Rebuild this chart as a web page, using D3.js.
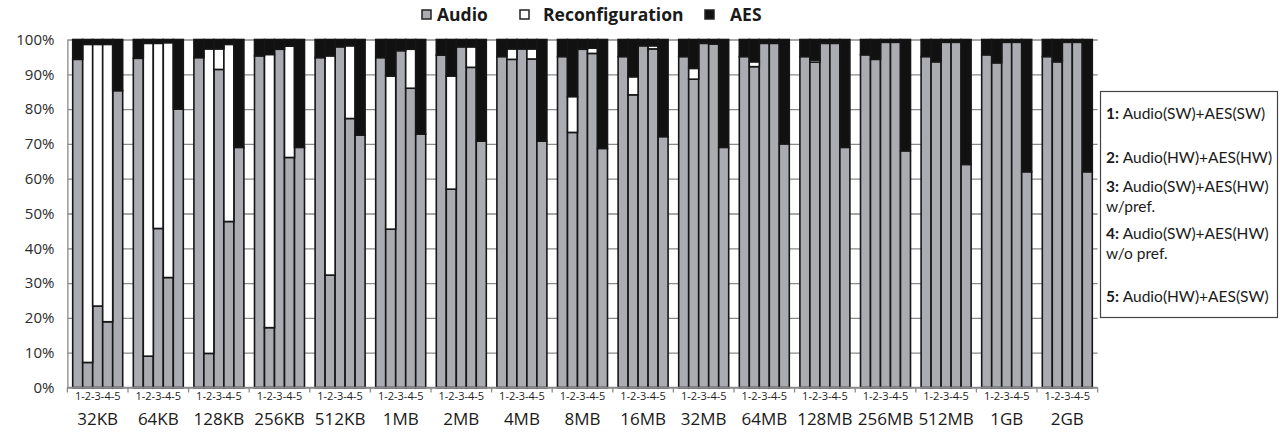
<!DOCTYPE html>
<html>
<head>
<meta charset="utf-8">
<script src="https://cdn.jsdelivr.net/npm/d3@7"></script>
<style>
  body { margin: 0; background: #fff; }
  text { font-family: "Open Sans", "Noto Sans", sans-serif; }
  #notes text { font-family: Lato, "Open Sans", sans-serif; }
</style>
</head>
<body>
<div id="chart"></div>
<script>
// data ------------------------------------------------------
const groups = ["32KB", "64KB", "128KB", "256KB", "512KB", "1MB", "2MB", "4MB", "8MB", "16MB",
                "32MB", "64MB", "128MB", "256MB", "512MB", "1GB", "2GB"]
const configs = ["1", "2", "3", "4", "5"]
const keys = ["Audio", "Reconfiguration", "AES"]

// one row per group, one value per config (1..5), in %
const audio = [
  [94.3, 7.2, 23.4, 18.9, 85.3],
  [94.6, 9.0, 45.7, 31.6, 80.0],
  [94.8, 9.8, 91.4, 47.7, 69.0],
  [95.3, 17.2, 97.2, 66.1, 69.0],
  [94.8, 32.3, 97.9, 77.3, 72.5],
  [94.8, 45.5, 96.8, 86.0, 72.8],
  [95.5, 57.0, 97.9, 92.0, 70.8],
  [95.1, 94.3, 97.3, 94.4, 70.8],
  [95.1, 73.3, 97.2, 96.0, 68.7],
  [95.1, 84.1, 98.2, 97.3, 72.1],
  [95.1, 88.6, 98.9, 98.7, 69.0],
  [95.1, 92.2, 98.9, 98.9, 70.0],
  [95.1, 93.5, 98.9, 98.9, 69.0],
  [95.6, 94.3, 99.2, 99.2, 68.0],
  [95.1, 93.6, 99.2, 99.2, 64.1],
  [95.6, 93.3, 99.2, 99.2, 62.0],
  [95.1, 93.6, 99.2, 99.2, 62.0]
]
const reconf = [
  [0, 91.4, 75.2, 79.7, 0],
  [0, 89.9, 53.2, 67.5, 0],
  [0, 87.5, 5.9, 50.9, 0],
  [0, 78.5, 0, 32.0, 0],
  [0, 63.0, 0, 20.9, 0],
  [0, 44.0, 0, 11.2, 0],
  [0, 32.5, 0, 5.9, 0],
  [0, 3.0, 0, 2.9, 0],
  [0, 10.3, 0, 1.5, 0],
  [0, 5.2, 0, 0.9, 0],
  [0, 3.1, 0, 0, 0],
  [0, 1.4, 0, 0, 0],
  [0, 0.6, 0, 0, 0],
  [0, 0, 0, 0, 0],
  [0, 0, 0, 0, 0],
  [0, 0, 0, 0, 0],
  [0, 0, 0, 0, 0]
]
const aes = [
  [5.7, 1.4, 1.4, 1.4, 14.7],
  [5.4, 1.1, 1.1, 0.9, 20.0],
  [5.2, 2.7, 2.7, 1.4, 31.0],
  [4.7, 4.3, 2.8, 1.9, 31.0],
  [5.2, 4.7, 2.1, 1.8, 27.5],
  [5.2, 10.5, 3.2, 2.8, 27.2],
  [4.5, 10.5, 2.1, 2.1, 29.2],
  [4.9, 2.7, 2.7, 2.7, 29.2],
  [4.9, 16.4, 2.8, 2.5, 31.3],
  [4.9, 10.7, 1.8, 1.8, 27.9],
  [4.9, 8.3, 1.1, 1.3, 31.0],
  [4.9, 6.4, 1.1, 1.1, 30.0],
  [4.9, 5.9, 1.1, 1.1, 31.0],
  [4.4, 5.7, 0.8, 0.8, 32.0],
  [4.9, 6.4, 0.8, 0.8, 35.9],
  [4.4, 6.7, 0.8, 0.8, 38.0],
  [4.9, 6.4, 0.8, 0.8, 38.0]
]
const yTicks = [0, 10, 20, 30, 40, 50, 60, 70, 80, 90, 100]
const configLabel = "1-2-3-4-5"
const noteNums = ["1:", "2:", "3:", "4:", "5:"]
const noteTexts = [["Audio(SW)+AES(SW)"], ["Audio(HW)+AES(HW)"], ["Audio(SW)+AES(HW)", "w/pref."],
                   ["Audio(SW)+AES(HW)", "w/o pref."], ["Audio(HW)+AES(SW)"]]

// ----------------------------------------------------------
const width = 1280
const height = 439
const plot = {left: 67.4, right: 1097.6, top: 39.5, bottom: 387.5}
const colors = {Audio: "#aaacb1", Reconfiguration: "#ffffff", AES: "#111111"}

//Svg and groups:
const svg = d3.select("div#chart").append("svg").attr("width", width).attr("height", height)
const gridGroup = svg.append("g").attr("id", "gridGroup")
const elementGroup = svg.append("g").attr("id", "elementGroup")
const axisGroup = svg.append("g").attr("id", "axisGroup")

//Scales:
const x = d3.scaleBand().domain(groups).range([plot.left, plot.right]).paddingInner(0.175).paddingOuter(0.0875)
const xi = d3.scaleBand().domain(configs).range([0, x.bandwidth()])
const y = d3.scaleLinear().domain([0, 100]).range([plot.bottom, plot.top])

//Grid:
gridGroup.call(d3.axisLeft(y).tickValues(yTicks).tickSize(-(plot.right - plot.left)).tickFormat(""))
  .attr("transform", `translate(${plot.left}, 0)`)
gridGroup.selectAll("line").attr("stroke", "#8a8a8a").attr("stroke-width", 1.3)
gridGroup.select(".domain").remove()

//Y axis:
const yAxisGroup = axisGroup.append("g").attr("transform", `translate(${plot.left}, 0)`)
yAxisGroup.call(d3.axisLeft(y).tickValues(yTicks).tickSize(0).tickPadding(13).tickFormat(d => d + "%"))
yAxisGroup.select(".domain").attr("stroke", "#8a8a8a").attr("stroke-width", 1.3)
yAxisGroup.selectAll("text").style("font-size", "15px").attr("fill", "#2b2b2b")

//X axis (line + ticks between groups):
axisGroup.append("line")
  .attr("x1", plot.left).attr("x2", plot.right)
  .attr("y1", plot.bottom).attr("y2", plot.bottom)
  .attr("stroke", "#8a8a8a").attr("stroke-width", 1.3)
const bounds = d3.range(groups.length + 1).map(i => plot.left + i * x.step())
axisGroup.selectAll("line.xtick").data(bounds).enter().append("line")
  .attr("class", "xtick")
  .attr("x1", d => d).attr("x2", d => d)
  .attr("y1", plot.bottom).attr("y2", plot.bottom + 5)
  .attr("stroke", "#8a8a8a").attr("stroke-width", 1.3)

axisGroup.selectAll("text.cfg").data(groups).enter().append("text")
  .attr("class", "cfg")
  .attr("x", d => x(d) + x.bandwidth() / 2)
  .attr("y", 399.5)
  .attr("text-anchor", "middle")
  .style("font-size", "11px")
  .attr("fill", "#222")
  .text(configLabel)

axisGroup.selectAll("text.grp").data(groups).enter().append("text")
  .attr("class", "grp")
  .attr("x", d => x(d) + x.bandwidth() / 2)
  .attr("y", 424.5)
  .attr("text-anchor", "middle")
  .style("font-size", "17px")
  .attr("fill", "#1a1a1a")
  .text(d => d)

//Data:
const rows = []
groups.forEach((g, gi) => {
  configs.forEach((c, ci) => {
    rows.push({group: g, config: c, Audio: audio[gi][ci], Reconfiguration: reconf[gi][ci], AES: aes[gi][ci]})
  })
})
const series = d3.stack().keys(keys)(rows)

const layers = elementGroup.selectAll("g.layer").data(series).enter().append("g")
  .attr("class", "layer")
  .attr("fill", d => colors[d.key])

layers.selectAll("rect").data(d => d.filter(s => s[1] - s[0] > 0)).enter().append("rect")
  .attr("x", d => x(d.data.group) + xi(d.data.config))
  .attr("y", d => y(d[1]))
  .attr("width", xi.bandwidth())
  .attr("height", d => y(d[0]) - y(d[1]))
  .attr("stroke", "#161616")
  .attr("stroke-width", 1.6)

//Top legend:
const legendItems = [{key: "Audio", x: 422}, {key: "Reconfiguration", x: 520}, {key: "AES", x: 705}]
const legend = svg.append("g").attr("id", "legend")
const li = legend.selectAll("g").data(legendItems).enter().append("g")
  .attr("transform", d => `translate(${d.x}, 10)`)
li.append("rect")
  .attr("width", 9).attr("height", 9)
  .attr("fill", d => colors[d.key])
  .attr("stroke", "#222").attr("stroke-width", 1.5)
li.append("text")
  .attr("x", d => d.key === "Audio" ? 15 : d.key === "AES" ? 25 : 23)
  .attr("y", 11)
  .style("font-size", "17.5px")
  .style("font-weight", "bold")
  .attr("fill", "#1a1a1a")
  .text(d => d.key)

//Config notes box:
const notes = svg.append("g").attr("id", "notes")
notes.append("rect")
  .attr("x", 1100.5).attr("y", 91.5).attr("width", 177).attr("height", 226)
  .attr("fill", "#fff").attr("stroke", "#444").attr("stroke-width", 1.2)
const noteY = [118.5, 162.5, 192, 239, 302]
noteNums.forEach((n, i) => {
  const t = notes.append("text")
    .attr("x", 1106).attr("y", noteY[i])
    .style("font-size", "15.5px")
    .attr("fill", "#1a1a1a")
  t.append("tspan").style("font-weight", "bold").text(n + " ")
  t.append("tspan").text(noteTexts[i][0])
  if (noteTexts[i][1]) {
    notes.append("text")
      .attr("x", 1106).attr("y", noteY[i] + 19.5)
      .style("font-size", "15.5px")
      .attr("fill", "#1a1a1a")
      .text(noteTexts[i][1])
  }
})
</script>
</body>
</html>
